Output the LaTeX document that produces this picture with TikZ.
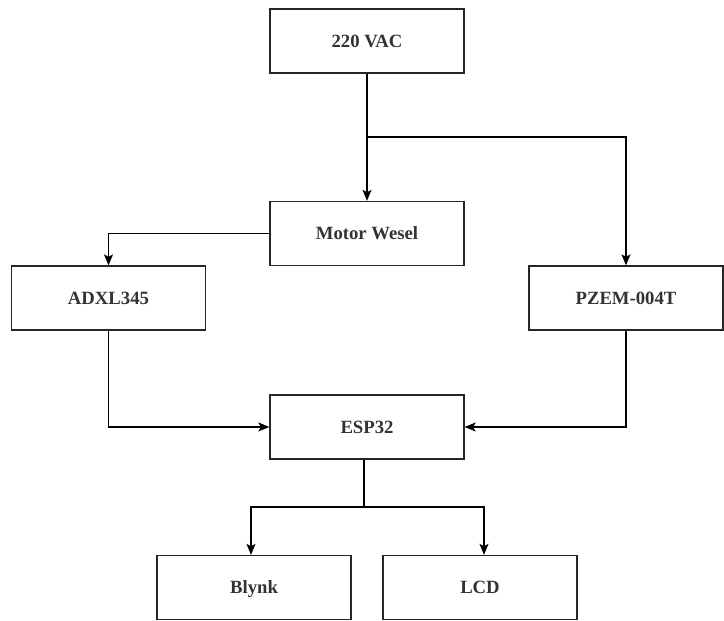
\documentclass[tikz,border=0pt]{standalone}
\usepackage{fontspec}
\setmainfont{Liberation Serif}
\usetikzlibrary{arrows.meta}
\begin{document}
\begin{tikzpicture}[x=1pt,y=-1pt,
  blk/.style={draw=black!85,line width=1.3pt,minimum width=194pt,minimum height=64pt,inner sep=0pt,
    text height=12.4pt,text depth=0pt,
    font=\fontsize{18.7}{22}\selectfont\bfseries,text=black!80},
  conn/.style={draw=black,line width=1.3pt},
  arr/.style={conn,-{Stealth[length=11pt,width=9pt,inset=2.5pt]}}]
\useasboundingbox (0,0) rectangle (724,621);
\node[blk] (vac) at (367,41) {220 VAC};
\node[blk] (motor) at (367,233.5) {Motor Wesel};
\node[blk] (adxl) at (108.5,298) {ADXL345};
\node[blk] (pzem) at (626,298) {PZEM-004T};
\node[blk] (esp) at (367,427) {ESP32};
\node[blk] (blynk) at (254,587.5) {Blynk};
\node[blk] (lcd) at (480,587.5) {LCD};
\coordinate (j1) at (367,137);
\coordinate (j2) at (364,507);
\draw[arr] (vac.south) -- (motor.north);
\draw[arr] (j1) -| (pzem.north);
\draw[arr] (motor.west) -| (adxl.north);
\draw[arr] (adxl.south) |- (esp.west);
\draw[arr] (pzem.south) |- (esp.east);
\draw[conn] (esp.south -| j2) -- (j2);
\draw[arr] (j2) -| (blynk.north -| 251,0);
\draw[arr] (j2) -| (lcd.north -| 484,0);
\end{tikzpicture}
\end{document}
